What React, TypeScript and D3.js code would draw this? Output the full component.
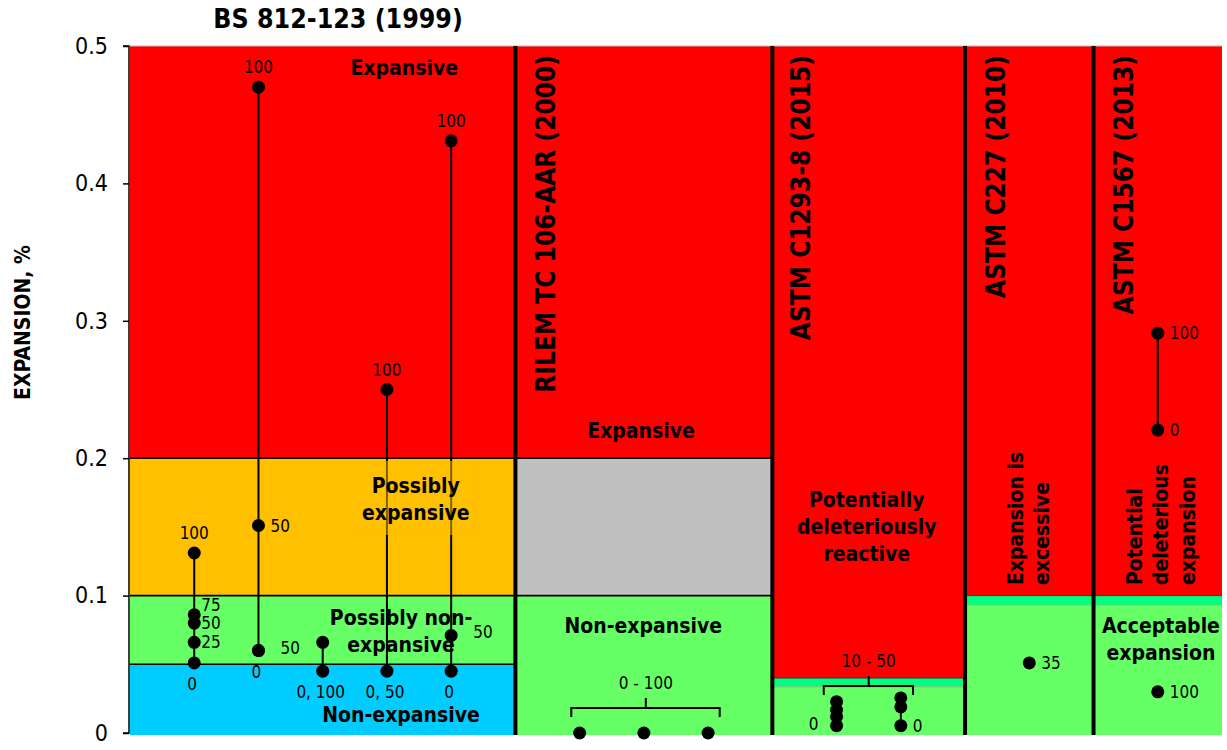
import React, { useEffect, useRef } from 'react'
import * as d3 from 'd3'

// colours of the classification zones
const RED = '#FF0000'
const ORANGE = '#FFC000'
const GREEN = '#66FF66'
const CYAN = '#00CCFF'
const GREY = '#C0C0C0'
const SPRING = '#00FF80'

// test methods, x in sample-slot units
const sections = [
  { title: 'BS 812-123 (1999)', from: 0, to: 6 },
  { title: 'RILEM TC 106-AAR (2000)', from: 6, to: 10 },
  { title: 'ASTM C1293-8 (2015)', from: 10, to: 13 },
  { title: 'ASTM C227 (2010)', from: 13, to: 15 },
  { title: 'ASTM C1567 (2013)', from: 15, to: 17 },
]

// zones: [section index, lower, upper, colour]
const zones: [number, number, number, string][] = [
  [0, 0.2, 0.5, RED],
  [0, 0.1, 0.2, ORANGE],
  [0, 0.05, 0.1, GREEN],
  [0, 0, 0.05, CYAN],
  [1, 0.2, 0.5, RED],
  [1, 0.1, 0.2, GREY],
  [1, 0, 0.1, GREEN],
  [2, 0.04, 0.5, RED],
  [2, 0.0335, 0.04, SPRING],
  [2, 0, 0.0335, GREEN],
  [3, 0.1, 0.5, RED],
  [3, 0.093, 0.1, SPRING],
  [3, 0, 0.093, GREEN],
  [4, 0.1, 0.5, RED],
  [4, 0.093, 0.1, SPRING],
  [4, 0, 0.093, GREEN],
]

// black limit lines: [section index, value]
const limitLines: [number, number][] = [
  [0, 0.2], [0, 0.1], [0, 0.05], [1, 0.2], [1, 0.1],
]

const yTicks = [0, 0.1, 0.2, 0.3, 0.4, 0.5]

// measured expansions, x = sample slot, v = expansion %
const bsPoints = [
  { x: 1, v: 0.131, label: '100', pos: 'top' },
  { x: 1, v: 0.086, label: '75', pos: 'rightHigh' },
  { x: 1, v: 0.080, label: '50', pos: 'rightTight' },
  { x: 1, v: 0.066, label: '25', pos: 'rightTight' },
  { x: 1, v: 0.051, label: '0', pos: 'bottom' },
  { x: 2, v: 0.470, label: '100', pos: 'top' },
  { x: 2, v: 0.151, label: '50', pos: 'right' },
  { x: 2, v: 0.060, label: '0', pos: 'bottom' },
  { x: 2, v: 0.060, label: '50', pos: 'rightFar' },
  { x: 3, v: 0.066, label: '', pos: '' },
  { x: 3, v: 0.045, label: '0, 100', pos: 'bottom' },
  { x: 4, v: 0.250, label: '100', pos: 'top' },
  { x: 4, v: 0.045, label: '0, 50', pos: 'bottom' },
  { x: 5, v: 0.431, label: '100', pos: 'top' },
  { x: 5, v: 0.071, label: '50', pos: 'rightFar' },
  { x: 5, v: 0.045, label: '0', pos: 'bottom' },
]
const rilemPoints = [
  { x: 7, v: 0, label: '', pos: '' },
  { x: 8, v: 0, label: '', pos: '' },
  { x: 9, v: 0, label: '', pos: '' },
]
const c1293Points = [
  { x: 11, v: 0.0228, label: '', pos: '' },
  { x: 11, v: 0.0167, label: '', pos: '' },
  { x: 11, v: 0.0119, label: '', pos: '' },
  { x: 11, v: 0.0053, label: '0', pos: 'left' },
  { x: 12, v: 0.0255, label: '', pos: '' },
  { x: 12, v: 0.019, label: '', pos: '' },
  { x: 12, v: 0.0053, label: '0', pos: 'right' },
]
const c227Points = [{ x: 14, v: 0.051, label: '35', pos: 'right' }]
const c1567Points = [
  { x: 16, v: 0.291, label: '100', pos: 'right' },
  { x: 16, v: 0.2205, label: '0', pos: 'right' },
  { x: 16, v: 0.030, label: '100', pos: 'right' },
]
// separate single readings (not joined)
const c1567Single = [0.030]

const brackets = [
  { from: 6.87, to: 9.18, mid: 8.03, v: 0.0182, label: '0 - 100' },
  { from: 10.8, to: 12.19, mid: 11.5, v: 0.0342, label: '10 - 50' },
]

// zone captions: x in slot units, v = baseline value
const zoneText = [
  { x: 4.27, v: 0.479, lines: ['Expansive'] },
  { x: 4.45, v: 0.1747, lines: ['Possibly', 'expansive'], box: ORANGE },
  { x: 4.22, v: 0.0786, lines: ['Possibly non-', 'expansive'] },
  { x: 4.22, v: 0.008, lines: ['Non-expansive'] },
  { x: 7.955, v: 0.2147, lines: ['Expansive'] },
  { x: 7.99, v: 0.0728, lines: ['Non-expansive'] },
  { x: 11.47, v: 0.1645, lines: ['Potentially', 'deleteriously', 'reactive'] },
  { x: 16.05, v: 0.0728, lines: ['Acceptable', 'expansion'] },
]
const zoneTextVertical = [
  { x: 13.9, v: 0.1077, lines: ['Expansion is', 'excessive'] },
  { x: 15.75, v: 0.1077, lines: ['Potential', 'deleterious', 'expansion'] },
]

const FONT = "'DejaVu Sans Condensed', 'DejaVu Sans', sans-serif"

const labelOffset: Record<string, [number, number, string]> = {
  top: [0, -14, 'middle'],
  bottom: [-2, 27, 'middle'],
  right: [12, 6, 'start'],
  rightTight: [7, 6, 'start'],
  rightHigh: [7, -4, 'start'],
  rightFar: [22, 3, 'start'],
  left: [-18, 4, 'end'],
}

const App = () => {
  const ref = useRef<SVGSVGElement>(null)

  useEffect(() => {
    const svg = d3.select(ref.current)
    svg.selectAll('*').remove()

    const x = d3.scaleLinear().domain([0, 17]).range([130, 1222])
    const y = d3.scaleLinear().domain([0, 0.5]).range([733, 46])

    // zones
    svg.append('g')
      .selectAll('rect')
      .data(zones)
      .enter()
      .append('rect')
      .attr('x', (d) => x(sections[d[0]].from))
      .attr('width', (d) => x(sections[d[0]].to) - x(sections[d[0]].from))
      .attr('y', (d) => y(d[2]))
      .attr('height', (d) => y(d[1]) - y(d[2]) + (d[1] === 0 ? 2 : 0))
      .attr('fill', (d) => d[3])

    // stripe edges
    const stripes = zones.filter((d) => d[3] === SPRING)
    svg.append('g')
      .selectAll('line')
      .data(stripes)
      .enter()
      .append('line')
      .attr('x1', (d) => x(sections[d[0]].from))
      .attr('x2', (d) => x(sections[d[0]].to))
      .attr('y1', (d) => y(d[2]))
      .attr('y2', (d) => y(d[2]))
      .attr('stroke', '#333')
      .attr('stroke-width', 1)
    svg.append('g')
      .selectAll('line')
      .data(stripes)
      .enter()
      .append('line')
      .attr('x1', (d) => x(sections[d[0]].from))
      .attr('x2', (d) => x(sections[d[0]].to))
      .attr('y1', (d) => y(d[1]))
      .attr('y2', (d) => y(d[1]))
      .attr('stroke', '#b9b070')
      .attr('stroke-width', 1)

    svg.append('line')
      .attr('x1', x(0)).attr('x2', x(17))
      .attr('y1', y(0.5)).attr('y2', y(0.5))
      .attr('stroke', '#bbb')

    const allPoints = [...bsPoints, ...rilemPoints, ...c1293Points, ...c227Points, ...c1567Points]

    // stems joining readings of one sample
    const groups = d3.groups(
      allPoints.filter((p) => !(p.x === 16 && c1567Single.includes(p.v))),
      (p) => p.x
    )
    svg.append('g')
      .selectAll('line')
      .data(groups.filter((g) => g[1].length > 1))
      .enter()
      .append('line')
      .attr('x1', (g) => x(g[0]))
      .attr('x2', (g) => x(g[0]))
      .attr('y1', (g) => y(d3.max(g[1], (p) => p.v) as number))
      .attr('y2', (g) => y(d3.min(g[1], (p) => p.v) as number))
      .attr('stroke', '#000')
      .attr('stroke-width', 2)

    // translucent box behind caption
    const boxed = zoneText.filter((d) => d.box)
    svg.append('g')
      .selectAll('rect')
      .data(boxed)
      .enter()
      .append('rect')
      .attr('x', (d) => x(d.x) - 62)
      .attr('y', (d) => y(d.v) - 32)
      .attr('width', 124)
      .attr('height', 74)
      .attr('fill', (d) => d.box as string)
      .attr('opacity', 0.5)

    svg.append('g')
      .selectAll('line')
      .data(limitLines)
      .enter()
      .append('line')
      .attr('x1', (d) => x(sections[d[0]].from))
      .attr('x2', (d) => x(sections[d[0]].to))
      .attr('y1', (d) => y(d[1]))
      .attr('y2', (d) => y(d[1]))
      .attr('stroke', '#000')
      .attr('stroke-width', 1.6)

    // separators between methods
    svg.append('g')
      .selectAll('line')
      .data(sections.slice(1))
      .enter()
      .append('line')
      .attr('x1', (d) => x(d.from))
      .attr('x2', (d) => x(d.from))
      .attr('y1', y(0.5))
      .attr('y2', y(0) + 2)
      .attr('stroke', '#000')
      .attr('stroke-width', 4)

    svg.append('g')
      .selectAll('circle')
      .data(allPoints)
      .enter()
      .append('circle')
      .attr('cx', (d) => x(d.x))
      .attr('cy', (d) => y(d.v))
      .attr('r', 6.5)
      .attr('fill', '#000')

    // zone captions
    const zt = svg.append('g')
      .attr('font-family', FONT)
      .attr('font-weight', 'bold')
      .attr('font-size', 21)
      .attr('text-anchor', 'middle')
    zoneText.forEach((z) => {
      z.lines.forEach((l, i) => {
        zt.append('text')
          .attr('x', x(z.x))
          .attr('y', y(z.v) + i * 27)
          .text(l)
      })
    })
    zoneTextVertical.forEach((z) => {
      z.lines.forEach((l, i) => {
        zt.append('text')
          .attr('transform', `translate(${x(z.x) + i * 26.5}, ${y(z.v)}) rotate(-90)`)
          .attr('text-anchor', 'start')
          .text(l)
      })
    })

    // point labels
    svg.append('g')
      .attr('font-family', FONT)
      .attr('font-size', 17)
      .selectAll('text')
      .data(allPoints.filter((p) => p.label))
      .enter()
      .append('text')
      .attr('x', (d) => x(d.x) + labelOffset[d.pos][0])
      .attr('y', (d) => y(d.v) + labelOffset[d.pos][1])
      .attr('text-anchor', (d) => labelOffset[d.pos][2])
      .text((d) => d.label)

    // brackets
    const br = svg.append('g')
    brackets.forEach((b) => {
      br.append('path')
        .attr('d', `M${x(b.from)},${y(b.v) + 9}V${y(b.v)}H${x(b.to)}V${y(b.v) + 9}M${x(b.mid)},${y(b.v)}V${y(b.v) - 10}`)
        .attr('fill', 'none')
        .attr('stroke', '#000')
        .attr('stroke-width', 2)
      br.append('text')
        .attr('x', x(b.mid))
        .attr('y', y(b.v) - 19)
        .attr('text-anchor', 'middle')
        .attr('font-family', FONT)
        .attr('font-size', 17)
        .text(b.label)
    })

    // axis
    const axis = svg.append('g')
      .attr('transform', `translate(${x(0) - 1}, 0)`)
      .call(
        d3.axisLeft(y)
          .tickValues(yTicks)
          .tickSize(6)
          .tickPadding(15)
          .tickFormat((d) => (d === 0 ? '0' : d3.format('.1f')(d as number)))
      )
    axis.select('.domain').attr('stroke-width', 1.5).attr('d', `M-6,${y(0.5)}H0V${y(0)}H-6`)
    axis.selectAll('line').attr('stroke-width', 1.5)
    axis.selectAll('text').attr('font-family', FONT).attr('font-size', 23).attr('fill', '#000')

    svg.append('text')
      .attr('transform', `translate(30, ${(y(0.5) + y(0)) / 2 - 67}) rotate(-90)`)
      .attr('text-anchor', 'middle')
      .attr('font-family', FONT)
      .attr('font-weight', 'bold')
      .attr('font-size', 21)
      .text('EXPANSION, %')

    // method titles
    svg.append('text')
      .attr('x', x(3.24))
      .attr('y', 28)
      .attr('text-anchor', 'middle')
      .attr('font-family', FONT)
      .attr('font-weight', 'bold')
      .attr('font-size', 26.5)
      .text(sections[0].title)

    const titleX = [6.62, 10.59, 13.62, 15.61]
    svg.append('g')
      .selectAll('text')
      .data(sections.slice(1))
      .enter()
      .append('text')
      .attr('transform', (d, i) => `translate(${x(titleX[i])}, 55) rotate(-90)`)
      .attr('text-anchor', 'end')
      .attr('font-family', FONT)
      .attr('font-weight', 'bold')
      .attr('font-size', 26)
      .text((d) => d.title)
  }, [])

  return (
    <svg
      ref={ref}
      width={1227}
      height={750}
      style={{ position: 'absolute', left: 0, top: 0, background: '#fff' }}
    />
  )
}

export default App
